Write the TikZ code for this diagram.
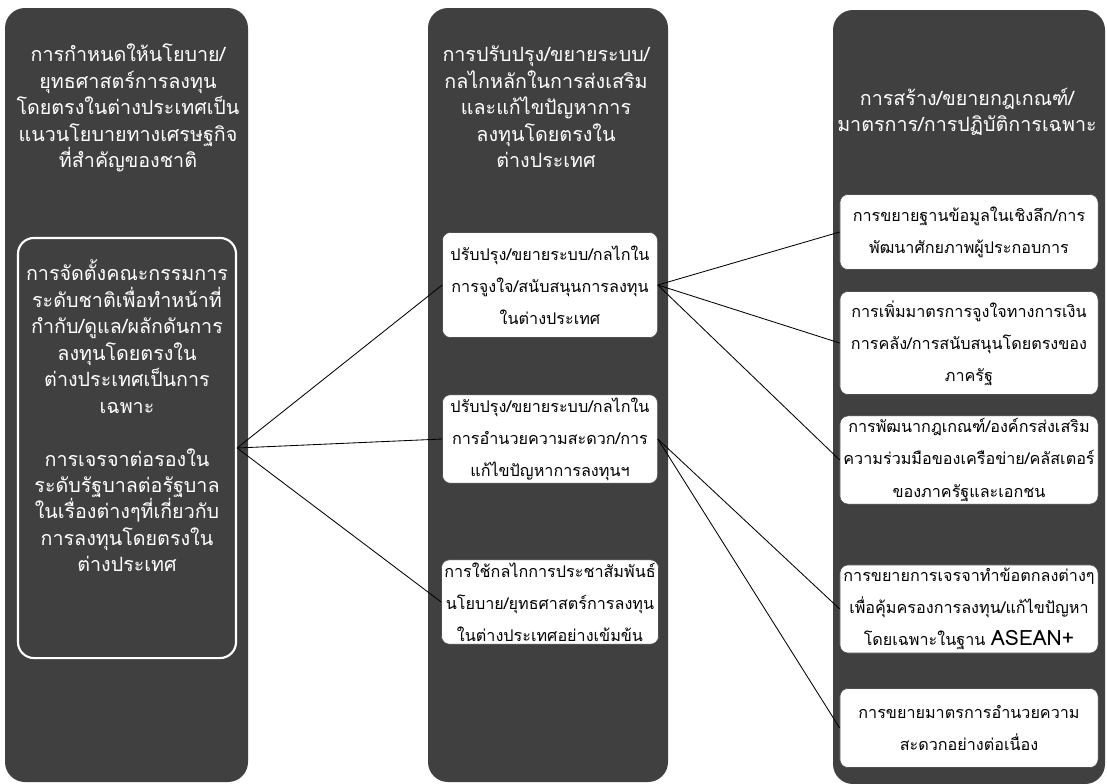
\documentclass[tikz,border=0pt]{standalone}
\usepackage{fontspec}
\newfontfamily\thaifont[Script=Thai]{Loma}
\begin{document}
\begin{tikzpicture}[x=0.025cm, y=-0.025cm,
    column/.style={fill=black!75, rounded corners=0.5cm},
    headtext/.style={text=white, align=center, font=\thaifont\fontsize{14}{18.8}\selectfont},
    whitebox/.style={draw=black!70, fill=white, rounded corners=0.2cm, align=center,
        inner sep=2pt, font=\thaifont\fontsize{11.5}{22.8}\selectfont},
    link/.style={black, line width=0.6pt}]

    \useasboundingbox (0,0) rectangle (1107,784);

    % Columns
    \fill[column] (5,8) rectangle (248,782);
    \fill[column] (428,8) rectangle (668,782);
    \fill[column] (833,10) rectangle (1105,784);

    % Column headings
    \node[headtext] (head1) at (128,108) {การกำหนดให้นโยบาย/\\ยุทธศาสตร์การลงทุน\\โดยตรงในต่างประเทศเป็น\\แนวนโยบายทางเศรษฐกิจ\\ที่สำคัญของชาติ};
    \node[headtext] (head2) at (546,107) {การปรับปรุง/ขยายระบบ/\\กลไกหลักในการส่งเสริม\\และแก้ไขปัญหาการ\\ลงทุนโดยตรงใน\\ต่างประเทศ};
    \node[headtext] (head3) at (967,112) {การสร้าง/ขยายกฎเกณฑ์/\\มาตรการ/การปฏิบัติการเฉพาะ};

    % Left framed block
    \node[draw=white, line width=1.5pt, rounded corners=0.4cm,
        minimum width=5.45cm, minimum height=10.5cm] (committee) at (127,448) {};
    \node[headtext] at (127,416) {การจัดตั้งคณะกรรมการ\\ระดับชาติเพื่อทำหน้าที่\\กำกับ/ดูแล/ผลักดันการ\\ลงทุนโดยตรงใน\\ต่างประเทศเป็นการ\\เฉพาะ\\[18.8pt]การเจรจาต่อรองใน\\ระดับรัฐบาลต่อรัฐบาล\\ในเรื่องต่างๆที่เกี่ยวกับ\\การลงทุนโดยตรงใน\\ต่างประเทศ};

    % Middle boxes
    \node[whitebox, minimum width=5.375cm, minimum height=2.625cm] (motive) at (550,285)
        {ปรับปรุง/ขยายระบบ/กลไกใน\\การจูงใจ/สนับสนุนการลงทุน\\ในต่างประเทศ};
    \node[whitebox, minimum width=5.375cm, minimum height=2.05cm] (facil) at (550,439)
        {ปรับปรุง/ขยายระบบ/กลไกใน\\การอำนวยความสะดวก/การ\\แก้ไขปัญหาการลงทุนฯ};
    \node[whitebox, minimum width=5.375cm, minimum height=2.0cm] (promo) at (550,602)
        {การใช้กลไกการประชาสัมพันธ์\\นโยบาย/ยุทธศาสตร์การลงทุน\\ในต่างประเทศอย่างเข้มข้น};

    % Right boxes
    \node[whitebox, minimum width=6.45cm, minimum height=1.875cm] (database) at (969,232)
        {การขยายฐานข้อมูลในเชิงลึก/การ\\พัฒนาศักยภาพผู้ประกอบการ};
    \node[whitebox, minimum width=6.45cm, minimum height=2.575cm] (fiscal) at (969,343)
        {การเพิ่มมาตรการจูงใจทางการเงิน\\การคลัง/การสนับสนุนโดยตรงของ\\ภาครัฐ};
    \node[whitebox, minimum width=6.45cm, minimum height=2.125cm] (network) at (969,460)
        {การพัฒนากฎเกณฑ์/องค์กรส่งเสริม\\ความร่วมมือของเครือข่าย/คลัสเตอร์\\ของภาครัฐและเอกชน};
    \node[whitebox, minimum width=6.45cm, minimum height=2.2cm] (treaty) at (969,609)
        {การขยายการเจรจาทำข้อตกลงต่างๆ\\เพื่อคุ้มครองการลงทุน/แก้ไขปัญหา\\โดยเฉพาะในฐาน {\fontsize{15}{18}\selectfont ASEAN+}};
    \node[whitebox, minimum width=6.45cm, minimum height=1.975cm] (service) at (969,728)
        {การขยายมาตรการอำนวยความ\\สะดวกอย่างต่อเนื่อง};

    % Connectors
    \foreach \target in {motive, facil, promo}
        \draw[link] (committee.east) -- (\target.west);
    \foreach \target in {database, fiscal, network}
        \draw[link] (motive.east) -- (\target.west);
    \foreach \target in {treaty, service}
        \draw[link] (facil.east) -- (\target.west);

\end{tikzpicture}
\end{document}
